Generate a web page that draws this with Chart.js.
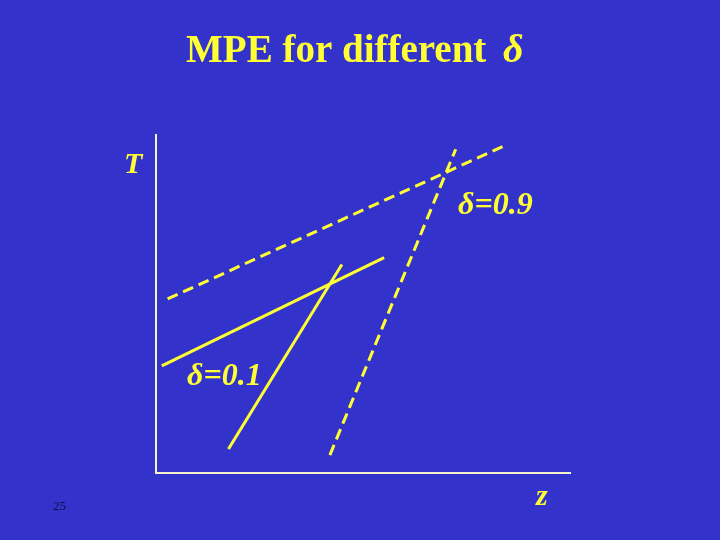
<!DOCTYPE html>
<html>
<head>
<meta charset="utf-8">
<script src="https://cdn.jsdelivr.net/npm/chart.js@4/dist/chart.umd.min.js"></script>
<style>
  html, body { margin: 0; padding: 0; background: #3333cc; }
  #wrap { width: 720px; height: 540px; }
</style>
</head>
<body>
<div id="wrap"><canvas id="chart"></canvas></div>
<script>
// line end points (z, T in arbitrary 0-100 units)
const lowDeltaFlatZ = [1.4, 55.1];
const lowDeltaFlatT = [31.7, 63.7];
const lowDeltaSteepZ = [17.5, 44.9];
const lowDeltaSteepT = [7.1, 61.7];
const highDeltaFlatZ = [2.8, 84.5];
const highDeltaFlatT = [51.5, 97.0];
const highDeltaSteepZ = [42.0, 72.4];
const highDeltaSteepT = [5.3, 95.8];

const yellow = "#ffff33";
const axisColor = "#f4f0d0";

function pts(xs, ys) {
  return xs.map((x, i) => ({ x: x, y: ys[i] }));
}

function seg(label, xs, ys, dashed) {
  return {
    label: label,
    data: pts(xs, ys),
    borderColor: yellow,
    borderWidth: 3,
    borderDash: dashed ? [11, 6] : [],
    pointRadius: 0,
    fill: false,
    tension: 0,
  };
}

// draws the slide texts (title, axis letters, delta labels, page no.)
const slideText = {
  id: "slideText",
  afterDraw(chart) {
    const ctx = chart.ctx;
    ctx.save();
    ctx.fillStyle = yellow;
    ctx.textBaseline = "alphabetic";
    ctx.textAlign = "left";
    ctx.font = "bold 39px 'Liberation Serif'";
    ctx.fillText("MPE for different", 186, 62);
    ctx.font = "italic bold 40px 'Liberation Serif'";
    ctx.fillText("\u03b4", 503, 62);

    ctx.font = "italic bold 30px 'Liberation Serif'";
    ctx.fillText("T", 124, 173);
    ctx.fillText("z", 536, 505);
    ctx.font = "italic bold 32px 'Liberation Serif'";
    ctx.fillText("\u03b4=0.9", 458, 214);
    ctx.fillText("\u03b4=0.1", 187, 385);

    ctx.fillStyle = "#101040";
    ctx.font = "13px 'Liberation Serif'";
    ctx.fillText("25", 53, 510);
    ctx.restore();
  },
};

const ctx = document.getElementById("chart").getContext("2d");
new Chart(ctx, {
  type: "line",
  data: {
    datasets: [
      seg("delta 0.9 flat", highDeltaFlatZ, highDeltaFlatT, true),
      seg("delta 0.9 steep", highDeltaSteepZ, highDeltaSteepT, true),
      seg("delta 0.1 flat", lowDeltaFlatZ, lowDeltaFlatT, false),
      seg("delta 0.1 steep", lowDeltaSteepZ, lowDeltaSteepT, false),
    ],
  },
  options: {
    responsive: true,
    maintainAspectRatio: false,
    animation: false,
    layout: { padding: { left: 156, right: 150, top: 135, bottom: 67 } },
    scales: {
      x: {
        type: "linear",
        min: 0,
        max: 100,
        grid: { display: false, drawTicks: false },
        border: { display: true, color: axisColor, width: 2 },
        ticks: { display: false },
      },
      y: {
        type: "linear",
        min: 0,
        max: 100,
        grid: { display: false, drawTicks: false },
        border: { display: true, color: axisColor, width: 2 },
        ticks: { display: false },
      },
    },
    plugins: {
      legend: { display: false },
      tooltip: { enabled: false },
    },
  },
  plugins: [slideText],
});
</script>
</body>
</html>
